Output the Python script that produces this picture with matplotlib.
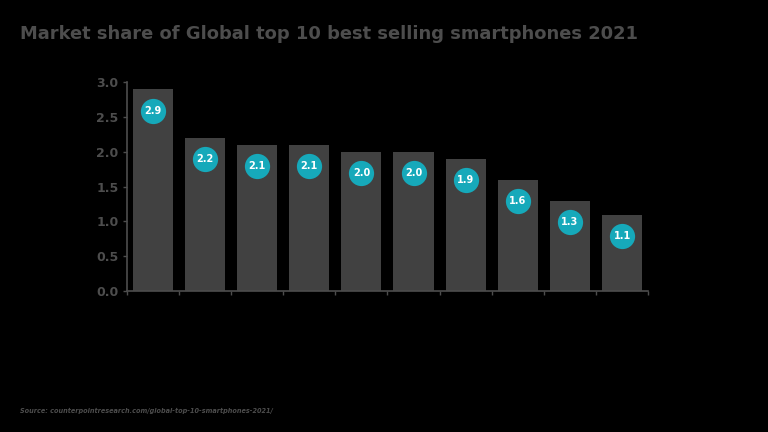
import matplotlib
matplotlib.use('Agg')
from matplotlib import pyplot
import numpy as np

# data
values = [2.9, 2.2, 2.1, 2.1, 2.0, 2.0, 1.9, 1.6, 1.3, 1.1]
labels = [f'{v:.1f}' for v in values]
y_ticks = [0.0, 0.5, 1.0, 1.5, 2.0, 2.5, 3.0]

title = 'Market share of Global top 10 best selling smartphones 2021'
source = 'Source: counterpointresearch.com/global-top-10-smartphones-2021/'

bg = '#000000'
bar_color = '#414141'
text_color = '#4d4d4d'
teal = '#16a9ba'

pyplot.rcParams['font.family'] = ['DejaVu Sans']

fig = pyplot.figure(figsize=(7.68, 4.32), dpi=100, facecolor=bg)
ax = fig.add_axes([0.165, 0.326, 0.679, 0.484], facecolor=bg)

x = np.arange(len(values))
ax.bar(x, values, width=0.77, color=bar_color, zorder=2)
ax.scatter(x, np.array(values) - 0.31, s=330, color=teal, zorder=3, linewidths=0)
for xi, v, lab in zip(x, values, labels):
    ax.text(xi, v - 0.31, lab, ha='center', va='center', color='white',
            fontsize=7, fontweight='bold', zorder=4)

ax.set_xlim(-0.5, 9.5)
ax.set_ylim(0, 3.0)
ax.set_xticks(np.arange(-0.5, 10, 1.0))
ax.set_xticklabels([])
ax.set_yticks(y_ticks)
ax.set_yticklabels([f'{t:.1f}' for t in y_ticks])

for side in ['top', 'right']:
    ax.spines[side].set_visible(False)
for side in ['left', 'bottom']:
    ax.spines[side].set_color(text_color)
    ax.spines[side].set_linewidth(1.2)
ax.tick_params(axis='both', colors=text_color, length=3, width=1.0)
ax.tick_params(axis='y', labelsize=9, pad=3)
for lab in ax.get_yticklabels():
    lab.set_fontweight('bold')

fig.text(0.026, 0.922, title, fontsize=12.9, fontweight='bold', color=text_color,
         ha='left', va='center')
fig.text(0.026, 0.048, source, fontsize=4.7, fontweight='bold', style='italic',
         color=text_color, ha='left', va='center')

fig.savefig('out.png', dpi=100, facecolor=bg)
pyplot.close()
